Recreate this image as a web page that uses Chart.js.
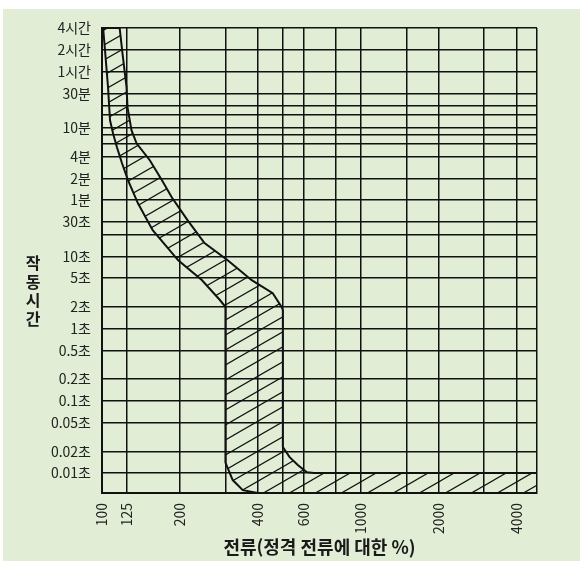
<!DOCTYPE html>
<html lang="ko">
<head>
<meta charset="utf-8">
<title>작동시간 특성</title>
<script src="https://cdn.jsdelivr.net/npm/chart.js@4.4.1/dist/chart.umd.min.js"></script>
<style>
  html, body { margin: 0; padding: 0; background: #fff; }
  #wrap { width: 580px; height: 561px; }
</style>
</head>
<body>
<div id="wrap"><canvas id="tripChart" width="580" height="561"></canvas></div>
<script>
// grid lines / tick labels (current in %, time in seconds)
const currentTicks = [100, 125, 200, 300, 400, 500, 600, 800, 1000, 1500, 2000, 3000, 4000, 4800];
const currentLabels = ['100', '125', '200', '', '400', '', '600', '', '1000', '', '2000', '', '4000', ''];
const timeTicks = [14400, 7200, 3600, 1800, 1200, 900, 600, 480, 360, 240, 120, 60, 30, 20, 10, 5, 2, 1, 0.5, 0.2, 0.1, 0.05, 0.02, 0.01];
const timeLabels = ['4시간', '2시간', '1시간', '30분', '', '', '10분', '', '', '4분', '2분', '1분', '30초', '', '10초', '5초', '2초', '1초', '0.5초', '0.2초', '0.1초', '0.05초', '0.02초', '0.01초'];

// lower edge of the band (min trip), top to bottom
const minCurrent = [101, 102.7, 105.5, 107.4, 110.3, 114.3, 119.4, 126, 137.7, 157, 197, 243, 285, 300, 300, 320, 350, 400];
const minTime = [14400, 7100, 2200, 760, 505, 320, 195, 113, 54, 23, 8.8, 4.7, 2.5, 2.0, 0.014, 0.008, 0.0058, 0.0053];

// upper edge of the band (max trip), top to bottom
const maxCurrent = [117, 120, 124.4, 125.5, 130, 136, 153, 170.5, 186, 214, 249, 306, 379, 457, 495, 500, 500, 531, 571, 618, 660, 4800];
const maxTime = [14400, 6440, 2180, 1150, 555, 366, 213, 113, 65.6, 31.6, 15.2, 8.83, 4.67, 3.09, 1.98, 1.8, 0.023, 0.0166, 0.0129, 0.0103, 0.01, 0.01];

const xMin = 100, xMax = 4800;
const yMin = 0.0053, yMax = 14400;

const xTitle = '전류(정격 전류에 대한 %)';
const yTitle = '작동시간';

const fontFamily = "'Noto Sans CJK KR', 'Noto Sans', sans-serif";

// closed outline: min edge down, along the bottom, then max edge back up
const bandPoints = [];
minCurrent.forEach((c, i) => bandPoints.push({ x: c, y: minTime[i] }));
bandPoints.push({ x: xMax, y: yMin });
for (let i = maxCurrent.length - 1; i >= 0; i--) {
    bandPoints.push({ x: maxCurrent[i], y: maxTime[i] });
}
bandPoints.push({ x: minCurrent[0], y: minTime[0] });

const canvas = document.getElementById('tripChart');
const ctx = canvas.getContext('2d');

function makeHatch() {
    const w = 26, h = 15;
    const tile = document.createElement('canvas');
    tile.width = w;
    tile.height = h;
    const g = tile.getContext('2d');
    g.strokeStyle = '#111';
    g.lineWidth = 1.2;
    g.beginPath();
    for (let k = -1; k <= 1; k++) {
        g.moveTo(k * w - 1, h + h / w);
        g.lineTo(k * w + w + 1, -h / w);
    }
    g.stroke();
    return ctx.createPattern(tile, 'repeat');
}

const backdrop = {
    id: 'backdrop',
    beforeDraw(chart) {
        const c = chart.ctx;
        c.save();
        c.fillStyle = '#ffffff';
        c.fillRect(0, 0, chart.width, chart.height);
        c.fillStyle = '#e1edd5';
        c.fillRect(3, 9, chart.width - 3, chart.height - 9);
        c.restore();
    }
};

// upright stacked y title
const stackedTitle = {
    id: 'stackedTitle',
    afterDraw(chart) {
        const c = chart.ctx;
        c.save();
        c.font = 'bold 16px ' + fontFamily;
        c.fillStyle = '#1a1a1a';
        c.textAlign = 'center';
        c.textBaseline = 'middle';
        [...yTitle].forEach((ch, i) => c.fillText(ch, 33, 263 + i * 18.5));
        c.restore();
    }
};

new Chart(ctx, {
    type: 'line',
    data: {
        datasets: [{
            data: bandPoints,
            fill: 'shape',
            backgroundColor: makeHatch(),
            borderColor: '#111',
            borderWidth: 2,
            pointRadius: 0,
            tension: 0
        }]
    },
    options: {
        responsive: false,
        animation: false,
        layout: { padding: { top: 28, right: 43, left: 0, bottom: 0 } },
        plugins: {
            legend: { display: false },
            tooltip: { enabled: false }
        },
        scales: {
            x: {
                type: 'logarithmic',
                min: xMin,
                max: xMax,
                afterBuildTicks: (scale) => {
                    scale.ticks = currentTicks.map(v => ({ value: v }));
                },
                afterFit: (scale) => { scale.height = 68; },
                ticks: {
                    autoSkip: false,
                    minRotation: 90,
                    maxRotation: 90,
                    padding: 10,
                    color: '#222',
                    font: { family: fontFamily, size: 14 },
                    callback: (v) => {
                        const i = currentTicks.indexOf(v);
                        return i >= 0 ? currentLabels[i] : '';
                    }
                },
                grid: { color: '#111', lineWidth: 1.5, drawTicks: false },
                border: { color: '#111', width: 2 },
                title: {
                    display: true,
                    text: xTitle,
                    color: '#1a1a1a',
                    font: { family: fontFamily, size: 18, weight: 'bold' },
                    padding: { top: 0, bottom: 3 }
                }
            },
            y: {
                type: 'logarithmic',
                min: yMin,
                max: yMax,
                afterBuildTicks: (scale) => {
                    scale.ticks = timeTicks.map(v => ({ value: v }));
                },
                afterFit: (scale) => { scale.width = 102; },
                ticks: {
                    autoSkip: false,
                    padding: 11,
                    color: '#222',
                    font: { family: fontFamily, size: 14 },
                    callback: (v) => {
                        const i = timeTicks.indexOf(v);
                        return i >= 0 ? timeLabels[i] : '';
                    }
                },
                grid: { color: '#111', lineWidth: 1.5, drawTicks: false },
                border: { color: '#111', width: 2 }
            }
        }
    },
    plugins: [backdrop, stackedTitle]
});
</script>
</body>
</html>
